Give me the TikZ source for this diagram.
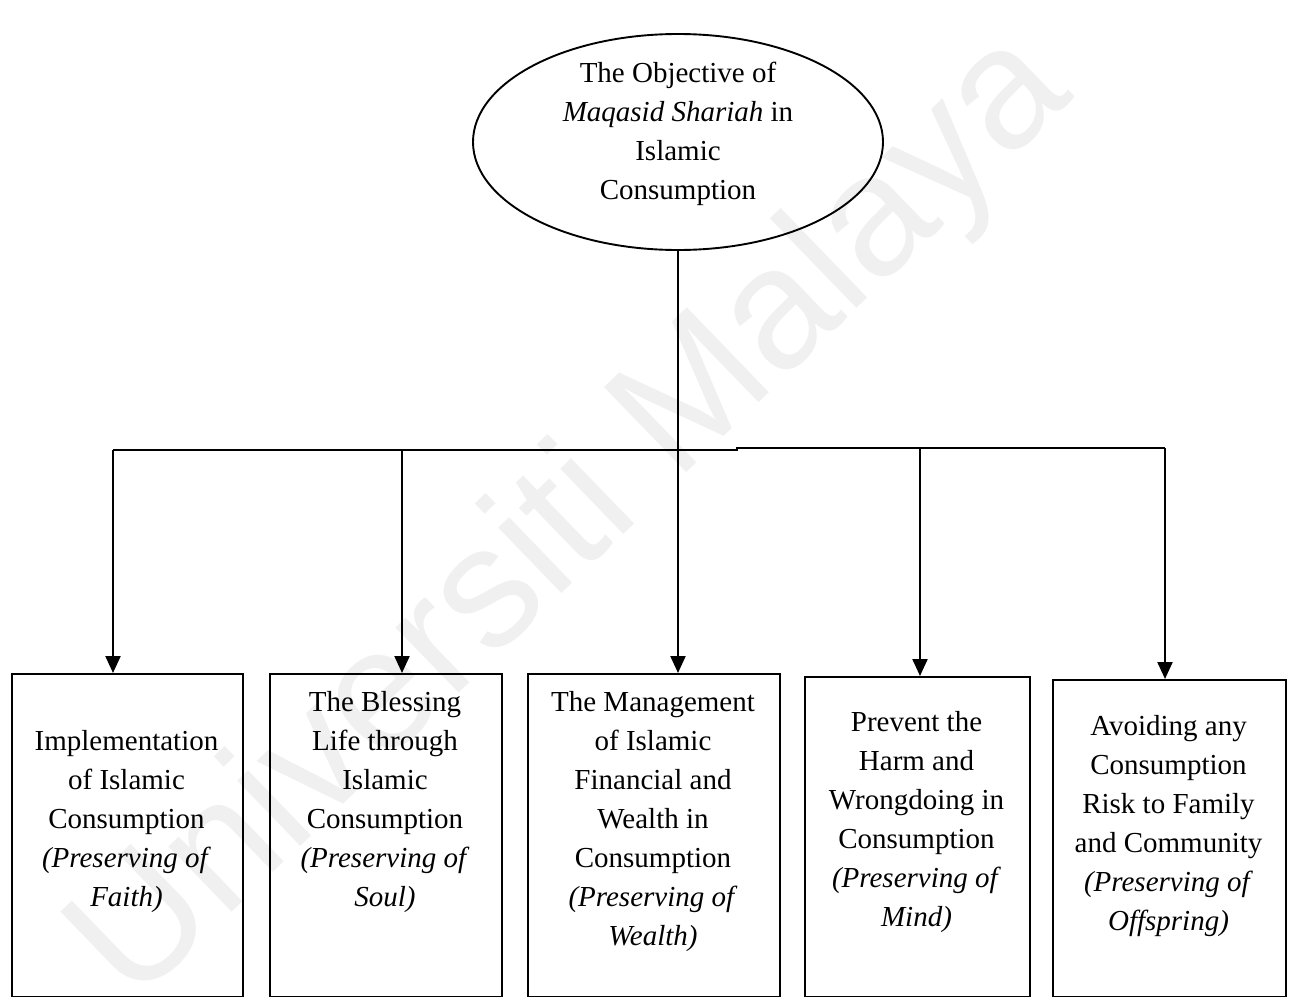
\documentclass[tikz,border=0pt]{standalone}
\usepackage{fontspec}
\setmainfont{Liberation Serif}
\newfontfamily\wmfont{Liberation Sans}
\usetikzlibrary{shapes.geometric,arrows.meta}
\definecolor{wmgray}{RGB}{240,240,240}
\tikzset{
  txt/.style={align=center,font=\fontsize{29}{39}\selectfont,inner sep=0pt},
  goalbox/.style={draw,line width=2.2pt,rectangle,inner sep=0pt,anchor=north west},
  feed/.style={line width=1.1pt},
  branch/.style={line width=2.2pt,-{Triangle[length=17pt,width=15pt]}},
}
\begin{document}
\begin{tikzpicture}[x=1pt,y=-1pt]
\useasboundingbox (0,0) rectangle (1289,996);
\clip (0,0) rectangle (1289,996);

% watermark
\node[text=wmgray,font=\wmfont\fontsize{172}{172}\selectfont,rotate=44,inner sep=0pt]
  (wm) at (574,520) {Universiti Malaya};

% root objective
\node[draw,ellipse,line width=1.9pt,minimum width=410pt,minimum height=216pt,inner sep=0pt]
  (root) at (678,142) {};
\node[txt] (roottxt) at (678,134) {The Objective of\\\textit{Maqasid Shariah} in\\Islamic\\Consumption};

% goal boxes (their lower edges sit on the page's bottom edge)
\node[goalbox,minimum width=231pt,minimum height=323pt] (b1) at (11,673) {};
\node[goalbox,minimum width=232pt,minimum height=323pt] (b2) at (269,673) {};
\node[goalbox,minimum width=252pt,minimum height=323pt] (b3) at (527,673) {};
\node[goalbox,minimum width=225pt,minimum height=320pt] (b4) at (804,676) {};
\node[goalbox,minimum width=233pt,minimum height=317pt] (b5) at (1052,679) {};

\node[txt] (t1) at (126.5,822) {Implementation\\of Islamic\\Consumption\\\textit{(Preserving of}\\\textit{Faith)}};
\node[txt] (t2) at (385,802) {The Blessing\\Life through\\Islamic\\Consumption\\\textit{(Preserving of}\\\textit{Soul)}};
\node[txt] (t3) at (653,822) {The Management\\of Islamic\\Financial and\\Wealth in\\Consumption\\\textit{(Preserving of}\\\textit{Wealth)}};
\node[txt] (t4) at (916.5,822) {Prevent the\\Harm and\\Wrongdoing in\\Consumption\\\textit{(Preserving of}\\\textit{Mind)}};
\node[txt] (t5) at (1168.5,826) {Avoiding any\\Consumption\\Risk to Family\\and Community\\\textit{(Preserving of}\\\textit{Offspring)}};

% distribution bus
\coordinate (a1) at (113,450);
\coordinate (a2) at (402,450);
\coordinate (a3) at (678,450);
\coordinate (jog) at (737,450);
\coordinate (a4) at (920,448);
\coordinate (a5) at (1165,448);

\draw[feed] (root.south) -- (root.south |- a3);
\draw[feed] (a1) -- (jog) -- ++(0,-2) -- (a5);

\draw[branch] (a1) -- (a1 |- b1.north);
\draw[branch] (a2) -- (a2 |- b2.north);
\draw[branch] (a3) -- (a3 |- b3.north);
\draw[branch] (a4) -- (a4 |- b4.north);
\draw[branch] (a5) -- (a5 |- b5.north);
\end{tikzpicture}
\end{document}
